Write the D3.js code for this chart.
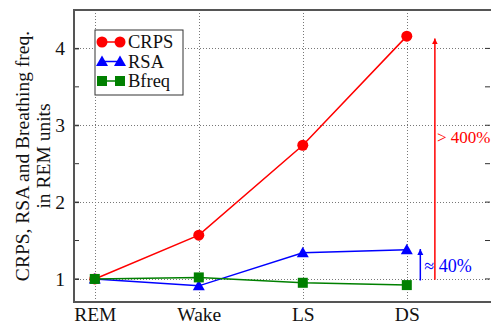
<!DOCTYPE html>
<html>
<head>
<meta charset="utf-8">
<script src="https://cdn.jsdelivr.net/npm/d3@7"></script>
<style>
  body { margin: 0; background: #fff; }
  svg text { font-family: "Liberation Serif", "DejaVu Serif", serif !important; }
</style>
</head>
<body>
<div id="chart"></div>
<script>
// Data
const stages = ['REM', 'Wake', 'LS', 'DS'];
const crps = [1.0, 1.57, 2.74, 4.16];
const rsa = [1.0, 0.91, 1.34, 1.38];
const bfreq = [1.0, 1.02, 0.95, 0.92];
const yTicks = [1, 2, 3, 4];
const yMinorTicks = [1.5, 2.5, 3.5];

const series = [
    { name: 'CRPS', values: crps, color: '#ff0000', marker: 'circle' },
    { name: 'RSA', values: rsa, color: '#0000ff', marker: 'triangle' },
    { name: 'Bfreq', values: bfreq, color: '#008000', marker: 'square' }
];

const width = 491, height = 325;
const margin = { top: 10, right: 1, bottom: 23, left: 74 };

const svg = d3.select('#chart').append('svg')
    .attr('width', width)
    .attr('height', height);

const x = d3.scaleLinear().domain([0.8, 4.8]).range([margin.left, width - margin.right]);
const y = d3.scaleLinear().domain([0.7, 4.5]).range([height - margin.bottom, margin.top]);
const xs = i => x(i + 1);

// Grid
const grid = svg.append('g').attr('stroke', '#777').attr('stroke-width', 1).attr('stroke-dasharray', '1,2');
yTicks.forEach(t => {
    grid.append('line').attr('x1', x.range()[0]).attr('x2', x.range()[1])
        .attr('y1', Math.round(y(t)) + 0.5).attr('y2', Math.round(y(t)) + 0.5);
});
stages.forEach((s, i) => {
    grid.append('line').attr('y1', y.range()[0]).attr('y2', y.range()[1])
        .attr('x1', Math.round(xs(i)) + 0.5).attr('x2', Math.round(xs(i)) + 0.5);
});

// Axes
const yAxis = d3.axisLeft(y).tickValues(yTicks).tickSize(-5).tickPadding(9).tickFormat(d3.format('d'));
const gy = svg.append('g').attr('transform', `translate(${margin.left},0)`).call(yAxis);
gy.selectAll('text').attr('font-size', 19.5).attr('fill', '#111');
gy.select('.domain').remove();
gy.selectAll('.tick line').attr('stroke', '#333');

// Minor ticks left and right
yMinorTicks.concat(yTicks).forEach(t => {
    svg.append('line').attr('x1', margin.left).attr('x2', margin.left + 5)
        .attr('y1', y(t)).attr('y2', y(t)).attr('stroke', '#333');
    svg.append('line').attr('x1', width - margin.right - 5).attr('x2', width - margin.right)
        .attr('y1', y(t)).attr('y2', y(t)).attr('stroke', '#333');
});

const xAxis = d3.axisBottom(x).tickValues([1, 2, 3, 4]).tickSize(0).tickPadding(5)
    .tickFormat(d => stages[d - 1]);
const gx = svg.append('g').attr('transform', `translate(0,${height - margin.bottom})`).call(xAxis);
gx.selectAll('text').attr('font-size', 19.5).attr('fill', '#111');
gx.select('.domain').remove();

// Frame: left, bottom, top
svg.append('path')
    .attr('d', `M${width},${margin.top} H${margin.left} V${height - margin.bottom} H${width}`)
    .attr('fill', 'none').attr('stroke', '#555').attr('stroke-width', 2);

// Y label
const ylab = svg.append('text')
    .attr('transform', `translate(22,${(margin.top + height - margin.bottom) / 2}) rotate(-90)`)
    .attr('text-anchor', 'middle').attr('font-size', 19.5).attr('fill', '#111');
ylab.append('tspan').attr('x', 0).attr('dy', '0.35em').text('CRPS, RSA and Breathing freq.');
ylab.append('tspan').attr('x', 0).attr('dy', '1.1em').text('in REM units');

// Markers
function drawMarker(g, type, cx, cy, color, s) {
    if (type === 'circle') {
        g.append('circle').attr('cx', cx).attr('cy', cy).attr('r', 5.5 * s).attr('fill', color);
    } else if (type === 'triangle') {
        const h = 6 * s;
        g.append('path').attr('d', `M${cx},${cy - h} L${cx + h},${cy + h * 0.75} L${cx - h},${cy + h * 0.75} Z`).attr('fill', color);
    } else {
        const h = 5 * s;
        g.append('rect').attr('x', cx - h).attr('y', cy - h).attr('width', 2 * h).attr('height', 2 * h).attr('fill', color);
    }
}

const line = d3.line().x((d, i) => xs(i)).y(d => y(d));

series.forEach(s => {
    const g = svg.append('g');
    g.append('path').datum(s.values).attr('d', line)
        .attr('fill', 'none').attr('stroke', s.color).attr('stroke-width', 1.5);
    s.values.forEach((v, i) => drawMarker(g, s.marker, xs(i), y(v), s.color, 1));
});

// Annotations
const defs = svg.append('defs');
[['red', '#ff0000'], ['blue', '#0000ff']].forEach(([id, c]) => {
    defs.append('marker').attr('id', 'arrow-' + id).attr('viewBox', '0 0 10 10')
        .attr('refX', 10).attr('refY', 5).attr('markerWidth', 4).attr('markerHeight', 5)
        .attr('orient', 'auto').attr('markerUnits', 'strokeWidth')
        .append('path').attr('d', 'M0,0 L10,5 L0,10 Z').attr('fill', c);
});

svg.append('line').attr('x1', x(4.27)).attr('x2', x(4.27)).attr('y1', y(0.99)).attr('y2', y(4.13))
    .attr('stroke', '#ff0000').attr('stroke-width', 1.5).attr('marker-end', 'url(#arrow-red)');
svg.append('text').attr('x', x(4.28) + 1).attr('y', y(2.77)).attr('font-size', 17)
    .attr('fill', '#ff0000').text('> 400%');

svg.append('line').attr('x1', x(4.13)).attr('x2', x(4.13)).attr('y1', y(0.98)).attr('y2', y(1.39))
    .attr('stroke', '#0000ff').attr('stroke-width', 1.5).attr('marker-end', 'url(#arrow-blue)');
svg.append('text').attr('x', x(4.14) + 3).attr('y', y(1.09)).attr('font-size', 18)
    .attr('fill', '#0000ff').text('≈ 40%');

// Legend
const lg = svg.append('g').attr('transform', 'translate(95,30)');
lg.append('rect').attr('width', 88).attr('height', 65).attr('fill', '#fff')
    .attr('stroke', '#333').attr('stroke-width', 1);
series.forEach((s, i) => {
    const cy = 12 + i * 19.5;
    lg.append('line').attr('x1', 7).attr('x2', 25).attr('y1', cy).attr('y2', cy)
        .attr('stroke', s.color).attr('stroke-width', 1.5);
    drawMarker(lg, s.marker, 7, cy, s.color, 1);
    drawMarker(lg, s.marker, 25, cy, s.color, 1);
    lg.append('text').attr('x', 33).attr('y', cy).attr('dy', '0.35em')
        .attr('font-size', 18.5).attr('fill', '#111').text(s.name);
});
</script>
</body>
</html>
